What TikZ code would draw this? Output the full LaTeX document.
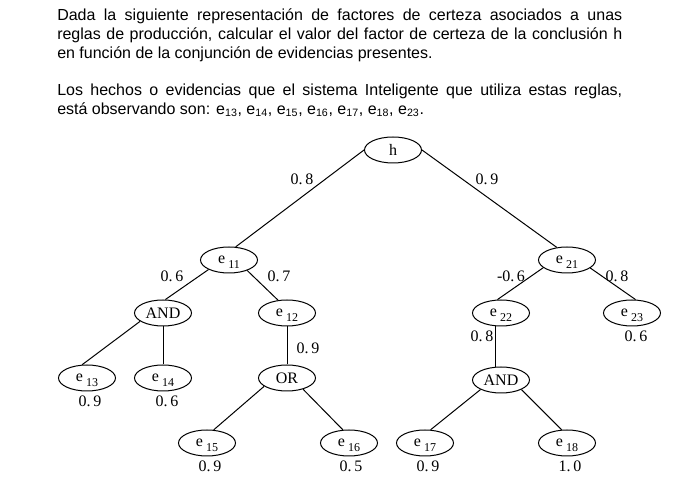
\documentclass[tikz,border=0pt]{standalone}
\usepackage{fontspec}
\setmainfont{Liberation Serif}
\newfontfamily\textosans{Liberation Sans}
\usetikzlibrary{shapes.geometric}

% evidencia con subindice separado
\newcommand{\ev}[1]{e\hspace{2.5pt}\raisebox{-3.5pt}[0pt][0pt]{\fontsize{9}{9}\selectfont #1}}

\begin{document}
\begin{tikzpicture}[x=0.75pt,y=-0.75pt]
	\tikzstyle{nodo}=[ellipse, draw=black, line width=0.75pt, minimum width=42.75pt, minimum height=19.5pt, inner sep=0pt, font=\fontsize{12}{14}\selectfont]
	\tikzstyle{peso}=[inner sep=0pt, font=\fontsize{12}{14}\selectfont]
	\tikzstyle{arco}=[line width=0.75pt]
	\tikzstyle{texto}=[anchor=base west, inner sep=0pt, font=\textosans\fontsize{12}{13.9}\selectfont]

	\useasboundingbox (0,0) rectangle (700,498);

	\node [texto] (enunciado) at (57,21) {\parbox[t]{423.75pt}{Dada la siguiente representación de factores de certeza asociados a unas\linebreak reglas de producción, calcular el valor del factor de certeza de la conclusión h\linebreak en función de la conjunción de evidencias presentes.}};
	\node [texto] (hechos) at (57,96) {\parbox[t]{423.75pt}{Los hechos o evidencias que el sistema Inteligente que utiliza estas reglas,\linebreak está observando son: e\textsubscript{13}, e\textsubscript{14}, e\textsubscript{15}, e\textsubscript{16}, e\textsubscript{17}, e\textsubscript{18}, e\textsubscript{23}.}};

	% arbol
	\node [nodo] (h) at (393,150) {h};
	\node [nodo] (e11) at (229,260) {\ev{11}};
	\node [nodo] (e21) at (567,260) {\ev{21}};
	\node [nodo] (and1) at (163,313) {AND};
	\node [nodo] (e12) at (287,313) {\ev{12}};
	\node [nodo] (e22) at (501,313) {\ev{22}};
	\node [nodo] (e23) at (632,313) {\ev{23}};
	\node [nodo] (e13) at (87,378) {\ev{13}};
	\node [nodo] (e14) at (163,378) {\ev{14}};
	\node [nodo] (or1) at (287,378) {OR};
	\node [nodo] (and2) at (501,380) {AND};
	\node [nodo] (e15) at (207,443) {\ev{15}};
	\node [nodo] (e16) at (349,443) {\ev{16}};
	\node [nodo] (e17) at (425,443) {\ev{17}};
	\node [nodo] (e18) at (567,443) {\ev{18}};

	\draw [arco] (h.west) -- (e11.63);
	\draw [arco] (h.east) -- (e21.129);
	\draw [arco] (e11.205) -- (and1.80);
	\draw [arco] (e11.-30) -- (e12.125);
	\draw [arco] (and1.200) -- (e13.110);
	\draw [arco] (and1.south) -- (e14.north);
	\draw [arco] (e12.south) -- (or1.north);
	\draw [arco] (or1.200) -- (e15.63);
	\draw [arco] (or1.-35) -- (e16.115);
	\draw [arco] (e21.198) -- (e22.105);
	\draw [arco] (e21.-19) -- (e23.75);
	\draw [arco] (e22.247) -- (and2.113);
	\draw [arco] (and2.205) -- (e17.67);
	\draw [arco] (and2.-25) -- (e18.112);

	% factores de los arcos
	\node [peso] (p1) at (302,179) {0.\,8};
	\node [peso] (p2) at (487,179) {0.\,9};
	\node [peso] (p3) at (172,276) {0.\,6};
	\node [peso] (p4) at (279,276) {0.\,7};
	\node [peso] (p5) at (308,348) {0.\,9};
	\node [peso] (p6) at (511,276) {-0.\,6};
	\node [peso] (p7) at (617,276) {0.\,8};
	\node [peso] (p8) at (482,336) {0.\,8};

	% factores de las evidencias
	\node [peso] (v13) at (90,401) {0.\,9};
	\node [peso] (v14) at (167,401) {0.\,6};
	\node [peso] (v15) at (210,466) {0.\,9};
	\node [peso] (v16) at (351,466) {0.\,5};
	\node [peso] (v17) at (428,466) {0.\,9};
	\node [peso] (v18) at (570,466) {1.\,0};
	\node [peso] (v23) at (636,336) {0.\,6};
\end{tikzpicture}
\end{document}
